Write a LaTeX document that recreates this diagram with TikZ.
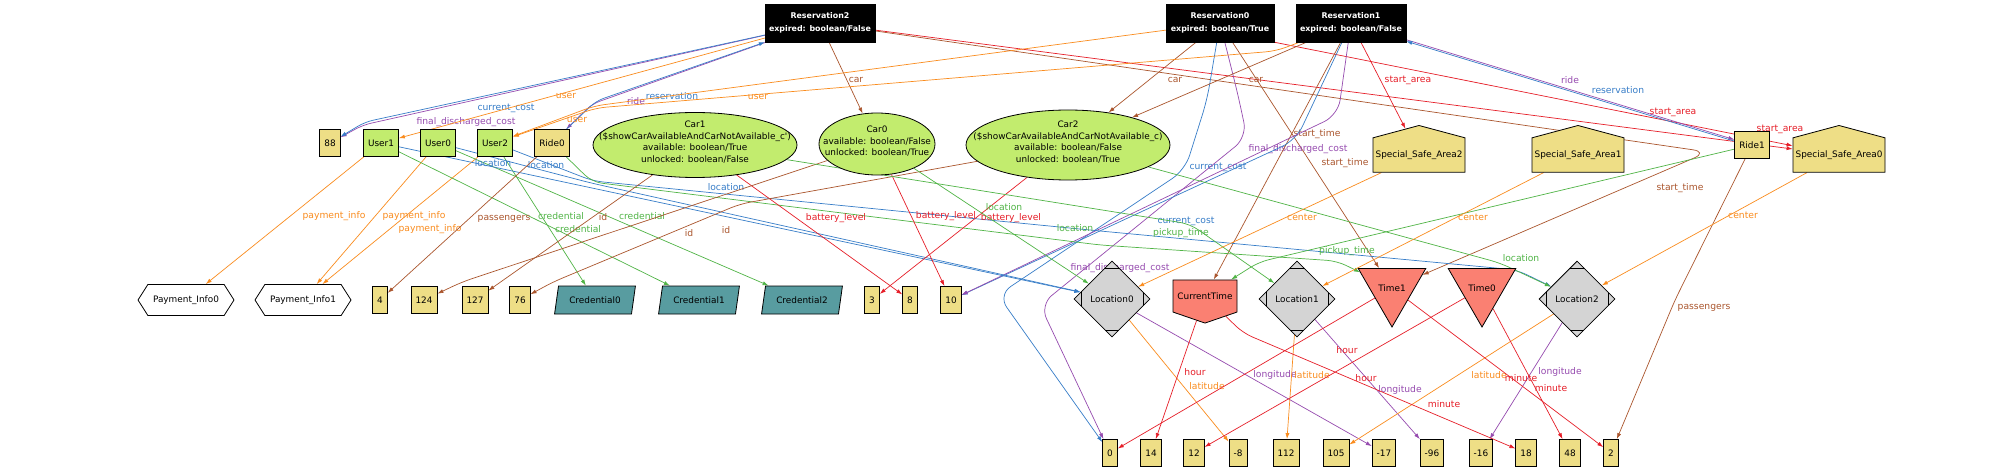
\documentclass[tikz,border=0pt]{standalone}
\usepackage{fontspec}
\setmainfont{DejaVu Sans}
\usetikzlibrary{shapes.geometric,shapes.symbols,arrows.meta,backgrounds}

\definecolor{cOrange}{RGB}{250,140,30}
\definecolor{cBlue}{RGB}{55,125,200}
\definecolor{cPurple}{RGB}{150,75,175}
\definecolor{cBrown}{RGB}{170,85,45}
\definecolor{cRed}{RGB}{230,30,40}
\definecolor{cGreen}{RGB}{80,180,70}
\definecolor{fYellow}{RGB}{238,222,134}
\definecolor{fGreen}{RGB}{194,236,110}
\definecolor{fTeal}{RGB}{88,156,160}
\definecolor{fSalmon}{RGB}{250,128,114}
\definecolor{fGray}{RGB}{212,212,212}

\newcommand{\nodefont}{\fontsize{8.9}{11.5}\selectfont}
\newcommand{\resfont}{\fontsize{7.9}{12.5}\selectfont\bfseries}
\newcommand{\lblfont}{\fontsize{9.2}{10}\selectfont}
\newcommand{\carText}[1]{\smash{\makebox[0pt]{\begin{tabular}{@{}c@{}}#1\end{tabular}}}}

\begin{document}
\begin{tikzpicture}[x=1pt, y=-1pt,
  rel/.style={-{Latex[length=6pt,width=4pt]}, draw=#1, text=#1, line width=0.7pt},
  lbl/.style={font=\lblfont, inner sep=0pt},
  resbox/.style={rectangle, draw=black, fill=black, text=white, font=\resfont, align=center,
    minimum width=108, minimum height=38, inner xsep=4},
  intbox/.style={rectangle, draw=black, line width=0.8pt, fill=fYellow, font=\nodefont,
    minimum height=27, inner xsep=4.5, inner ysep=0},
  userbox/.style={intbox, fill=fGreen},
  carnode/.style={ellipse, draw=black, line width=0.8pt, fill=fGreen, font=\nodefont, inner sep=0},
  areanode/.style={signal, signal to=north, signal pointer angle=150, draw=black, line width=0.8pt,
    fill=fYellow, font=\nodefont, minimum width=92, minimum height=46, inner sep=0},
  paynode/.style={signal, signal to=west and east, signal pointer angle=115, draw=black,
    line width=0.8pt, fill=white, font=\nodefont, minimum width=96, minimum height=31, inner sep=0},
  crednode/.style={trapezium, trapezium left angle=68, trapezium right angle=112,
    trapezium stretches=true, draw=black, line width=0.8pt, fill=fTeal, font=\nodefont,
    minimum width=81, minimum height=28, inner sep=0},
  nownode/.style={signal, signal to=south, signal pointer angle=142, draw=black, line width=0.8pt,
    fill=fSalmon, font=\nodefont, minimum width=64, minimum height=43, inner xsep=4, inner ysep=0},
  timenode/.style={regular polygon, regular polygon sides=3, shape border rotate=180,
    draw=black, line width=0.8pt, fill=fSalmon, font=\nodefont, minimum size=78, inner sep=0},
  locnode/.style={diamond, aspect=1, draw=black, line width=0.8pt, fill=fGray, font=\nodefont,
    minimum width=76, minimum height=76, inner sep=0,
    path picture={
      \draw[line width=0.6pt] ([yshift=-7pt]path picture bounding box.north) +(-10pt,0pt) -- +(10pt,0pt);
      \draw[line width=0.6pt] ([yshift=7pt]path picture bounding box.south) +(-10pt,0pt) -- +(10pt,0pt);
      \draw[line width=0.6pt] ([xshift=7pt]path picture bounding box.west) +(0pt,-10pt) -- +(0pt,10pt);
      \draw[line width=0.6pt] ([xshift=-7pt]path picture bounding box.east) +(0pt,-10pt) -- +(0pt,10pt);
    }}]
  \useasboundingbox (0,0) rectangle (2000,473);

  % reservations
  \node[resbox] (res2) at (820,23) {Reservation2\\expired: boolean/False};
  \node[resbox] (res0) at (1220,23) {Reservation0\\expired: boolean/True};
  \node[resbox] (res1) at (1351,23) {Reservation1\\expired: boolean/False};

  % first row
  \node[intbox] (n88) at (330,143) {88};
  \node[userbox] (user1) at (381,143) {User1};
  \node[userbox] (user0) at (438,143) {User0};
  \node[userbox] (user2) at (495,143) {User2};
  \node[intbox] (ride0) at (552,143) {Ride0};
  \node[carnode, minimum width=204, minimum height=65] (car1) at (695,145)
    {\carText{Car1\\(\$showCarAvailableAndCarNotAvailable\_c\textquotesingle)\\available: boolean/True\\unlocked: boolean/False}};
  \node[carnode, minimum width=116, minimum height=62] (car0) at (877,144)
    {\carText{Car0\\available: boolean/False\\unlocked: boolean/True}};
  \node[carnode, minimum width=204, minimum height=70] (car2) at (1068,145)
    {\carText{Car2\\(\$showCarAvailableAndCarNotAvailable\_c)\\available: boolean/False\\unlocked: boolean/True}};
  \node[areanode] (ssa2) at (1419,155) {Special\_Safe\_Area2};
  \node[areanode] (ssa1) at (1578,155) {Special\_Safe\_Area1};
  \node[intbox] (ride1) at (1752,145) {Ride1};
  \node[areanode] (ssa0) at (1839,155) {Special\_Safe\_Area0};

  % second row
  \node[paynode] (pay0) at (186,300) {Payment\_Info0};
  \node[paynode] (pay1) at (303,300) {Payment\_Info1};
  \foreach \nm/\x/\v in {n4/380/4, n124/424/124, n127/475/127, n76/520/76, n3/872/3, n8/910/8, n10/951/10}
    \node[intbox] (\nm) at (\x,300) {\v};
  \node[crednode] (cred0) at (595,300) {Credential0};
  \node[crednode] (cred1) at (699,300) {Credential1};
  \node[crednode] (cred2) at (802,300) {Credential2};
  \node[locnode] (loc0) at (1112,299) {Location0};
  \node[nownode] (ctime) at (1205,296) {CurrentTime};
  \node[locnode] (loc1) at (1297,299) {Location1};
  \node[timenode] (time1) at (1392,288) {Time1};
  \node[timenode] (time0) at (1482,288) {Time0};
  \node[locnode] (loc2) at (1577,299) {Location2};

  % third row
  \foreach \nm/\x/\v in {n0/1110/0, n14/1151/14, n12/1194/12, nm8/1238/-8, n112/1286/112, n105/1336/105,
      nm17/1384/-17, nm96/1432/-96, nm16/1481/-16, n18/1526/18, n48/1570/48, n2/1611/2}
    \node[intbox] (\nm) at (\x,453) {\v};

  \begin{scope}[on background layer]
  \fill[white] (0,0) rectangle (2000,473);
  % Reservation2
  \draw[rel=cPurple, rounded corners=8pt] (res2) -- (363,125) -- (n88) node[lbl] at (466,122) {final\_discharged\_cost};
  \draw[rel=cBlue, rounded corners=8pt] (res2) -- (365,122) -- (n88) node[lbl] at (506,108) {current\_cost};
  \draw[rel=cOrange] (res2) -- (user1) node[lbl] at (566,96) {user};
  \draw[rel=cPurple, rounded corners=8pt] (res2) -- (592,104) -- (ride0) node[lbl] at (636,101) {ride};
  \draw[rel=cBlue, rounded corners=8pt] (ride0) -- (596,101) -- (res2) node[lbl] at (672,96) {reservation};
  \draw[rel=cBrown] (res2) -- (car0) node[lbl] at (856,80) {car};
  \draw[rel=cRed] (res2) -- (ssa0) node[lbl] at (1780,129) {start\_area};
  \draw[rel=cBrown, rounded corners=15pt] (res2) -- (1708,152) -- (time1) node[lbl] at (1680,188) {start\_time};
  % Reservation0
  \draw[rel=cBrown] (res0) -- (car2) node[lbl] at (1175,80) {car};
  \draw[rel=cOrange, rounded corners=10pt] (res0) -- (594,106) -- (user2) node[lbl] at (758,97) {user};
  \draw[rel=cRed] (res0.south east) -- (ssa0) node[lbl] at (1673,112) {start\_area};
  \draw[rel=cBrown] (res0) -- (time1) node[lbl] at (1345,163) {start\_time};
  \draw[rel=cBlue, rounded corners=15pt] (res0) -- (1207,100) -- (1185,170) -- (998,295) -- (n0) node[lbl] at (1218,167) {current\_cost};
  \draw[rel=cPurple, rounded corners=15pt] (res0) -- (1238,95) -- (1247,137) -- (1040,305) -- (n0) node[lbl] at (1298,149) {final\_discharged\_cost};
  % Reservation1
  \draw[rel=cBrown] (res1) -- (car2) node[lbl] at (1256,80) {car};
  \draw[rel=cOrange, rounded corners=10pt] (res1) -- (1276,51) -- (596,108) -- (user2) node[lbl] at (577,120) {user};
  \draw[rel=cRed] (res1) -- (ssa2) node[lbl] at (1408,80) {start\_area};
  \draw[rel=cBrown] (res1) -- (ctime) node[lbl] at (1317,134) {start\_time};
  \draw[rel=cPurple] (res1) -- (ride1) node[lbl] at (1570,80) {ride};
  \draw[rel=cBlue, transform canvas={yshift=-1.5pt}] (ride1) -- (res1) node[lbl] at (1618,89) {reservation};
  \draw[rel=cBlue, rounded corners=15pt] (res1) -- (1296,140) -- (n10) node[lbl] at (1186,221) {current\_cost};
  \draw[rel=cPurple, rounded corners=15pt] (res1) -- (1338,115) -- (n10) node[lbl] at (1120,268) {final\_discharged\_cost};
  % users
  \draw[rel=cOrange] (user1) -- (pay0) node[lbl] at (334,216) {payment\_info};
  \draw[rel=cOrange] (user0) -- (pay1) node[lbl] at (414,216) {payment\_info};
  \draw[rel=cOrange] (user2) -- (pay1) node[lbl] at (430,229) {payment\_info};
  \draw[rel=cGreen] (user2) -- (cred0) node[lbl] at (561,216) {credential};
  \draw[rel=cGreen] (user1) -- (cred1) node[lbl] at (578,229) {credential};
  \draw[rel=cGreen] (user0) -- (cred2) node[lbl] at (642,216) {credential};
  \draw[rel=cBlue] (user1) -- (loc0) node[lbl] at (493,163) {location};
  \draw[rel=cBlue, rounded corners=10pt] (user0) -- (591,183) -- (loc0) node[lbl] at (546,165) {location};
  \draw[rel=cBlue, rounded corners=10pt] (user2) -- (593,181) -- (1100,231) -- (1517,270) -- (loc2) node[lbl] at (726,187) {location};
  % rides
  \draw[rel=cBrown] (ride0) -- (n4) node[lbl] at (504,219) {passengers};
  \draw[rel=cGreen, rounded corners=10pt] (ride0) -- (592,182) -- (1100,245) -- (1337,261) -- (time1) node[lbl] at (1181,233) {pickup\_time};
  \draw[rel=cBrown, rounded corners=10pt] (ride1) -- (1675,300) -- (n2) node[lbl] at (1704,308) {passengers};
  \draw[rel=cGreen, rounded corners=10pt] (ride1) -- (1259,262) -- (ctime) node[lbl] at (1347,251) {pickup\_time};
  % cars
  \draw[rel=cRed] (car1) -- (n8) node[lbl] at (836,218) {battery\_level};
  \draw[rel=cRed] (car0) -- (n10) node[lbl] at (946,216) {battery\_level};
  \draw[rel=cRed] (car2) -- (n3) node[lbl] at (1011,218) {battery\_level};
  \draw[rel=cBrown] (car1) -- (n127) node[lbl] at (603,217) {id};
  \draw[rel=cBrown, rounded corners=10pt] (car0) -- (462,282) -- (n124) node[lbl] at (689,233) {id};
  \draw[rel=cBrown, rounded corners=10pt] (car2) -- (740,204) -- (553,282) -- (n76) node[lbl] at (726,230) {id};
  \draw[rel=cGreen] (car0) -- (loc0) node[lbl] at (1004,207) {location};
  \draw[rel=cGreen, rounded corners=10pt] (car1) -- (1190,224) -- (loc1) node[lbl] at (1075,228) {location};
  \draw[rel=cGreen, rounded corners=10pt] (car2) -- (1500,263) -- (loc2) node[lbl] at (1521,258) {location};
  % safe areas
  \draw[rel=cOrange] (ssa2) -- (loc0) node[lbl] at (1302,217) {center};
  \draw[rel=cOrange] (ssa1) -- (loc1) node[lbl] at (1473,217) {center};
  \draw[rel=cOrange] (ssa0) -- (loc2) node[lbl] at (1743,215) {center};
  % locations
  \draw[rel=cOrange] (loc0) -- (nm8) node[lbl] at (1207,386) {latitude};
  \draw[rel=cPurple] (loc0) -- (nm17) node[lbl] at (1275,375) {longitude};
  \draw[rel=cOrange] (loc1) -- (n112) node[lbl] at (1312,375) {latitude};
  \draw[rel=cPurple] (loc1) -- (nm96) node[lbl] at (1400,390) {longitude};
  \draw[rel=cOrange] (loc2) -- (n105) node[lbl] at (1489,375) {latitude};
  \draw[rel=cPurple] (loc2) -- (nm16) node[lbl] at (1560,372) {longitude};
  % times
  \draw[rel=cRed] (ctime) -- (n14) node[lbl] at (1195,372) {hour};
  \draw[rel=cRed, rounded corners=10pt] (ctime) -- (1243,333) -- (n18) node[lbl] at (1444,404) {minute};
  \draw[rel=cRed] (time1) -- (n0) node[lbl] at (1347,350) {hour};
  \draw[rel=cRed] (time0) -- (n12) node[lbl] at (1366,378) {hour};
  \draw[rel=cRed] (time1) -- (n2) node[lbl] at (1521,378) {minute};
  \draw[rel=cRed] (time0) -- (n48) node[lbl] at (1551,388) {minute};
  \end{scope}
\end{tikzpicture}
\end{document}
